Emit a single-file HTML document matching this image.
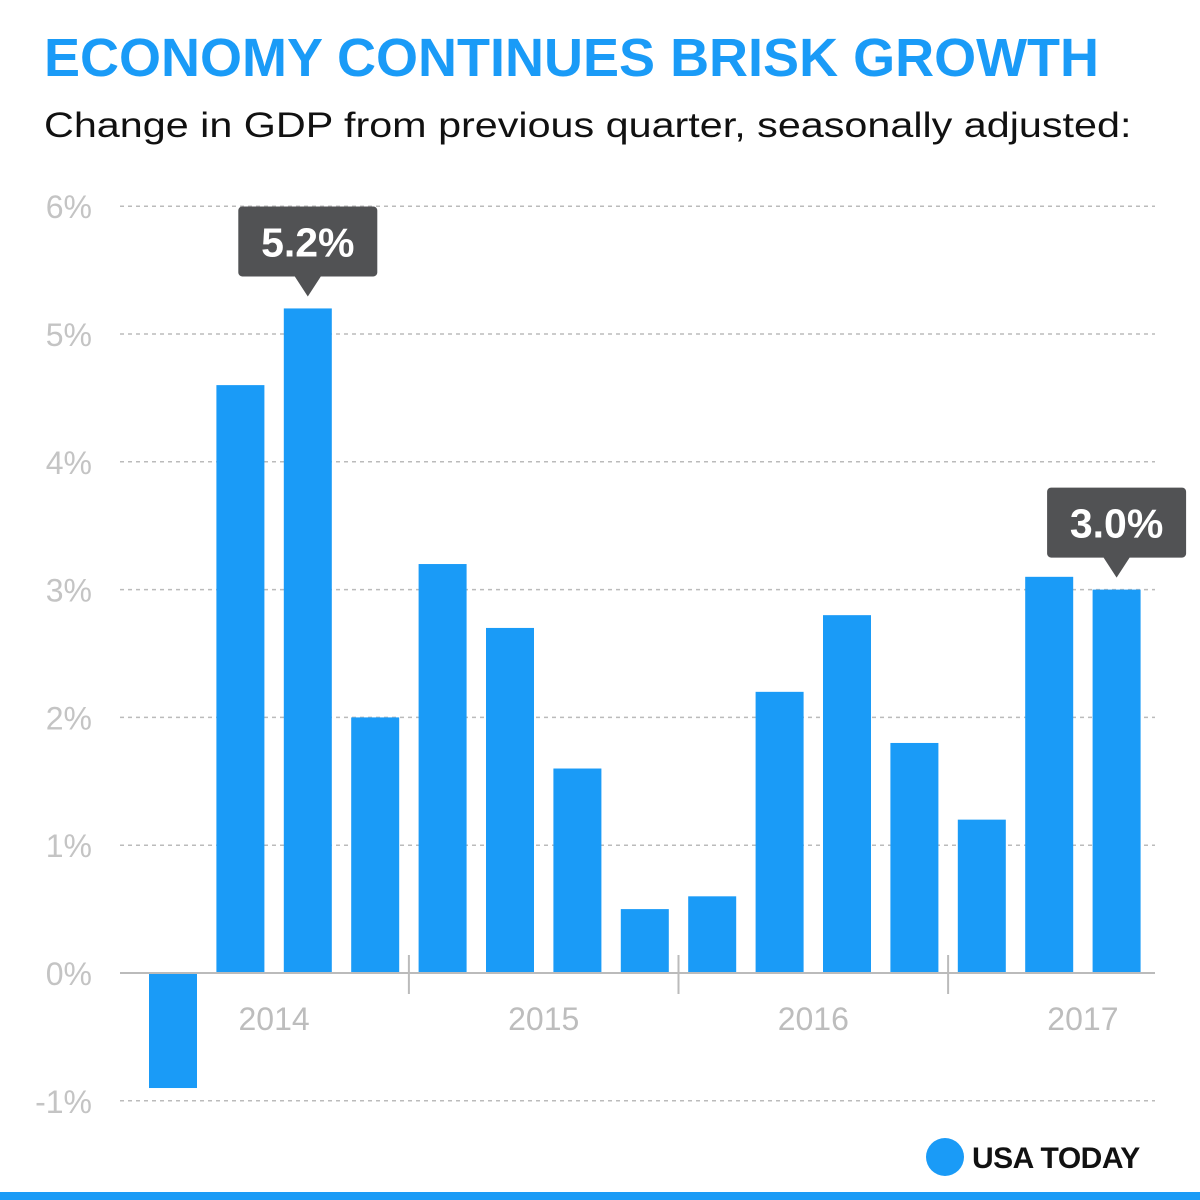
<!DOCTYPE html>
<html><head><meta charset="utf-8"><style>
html,body{margin:0;padding:0;background:#fff;}
body{width:1200px;height:1200px;position:relative;overflow:hidden;font-family:"Liberation Sans",sans-serif;}
</style></head><body>
<div style="position:absolute;left:44px;top:27px;font-size:54px;font-weight:bold;color:#1a9bf7;white-space:nowrap;transform:scaleX(1.0);transform-origin:0 0;">ECONOMY CONTINUES BRISK GROWTH</div>
<div style="position:absolute;left:44px;top:106px;font-size:35px;color:#111;white-space:nowrap;transform:scaleX(1.18);transform-origin:0 0;">Change in GDP from previous quarter, seasonally adjusted:</div>
<svg id="chart" width="1200" height="1200" style="position:absolute;left:0;top:0;"></svg>
<div style="position:absolute;left:0;top:1192px;width:1200px;height:8px;background:#1a9bf7;"></div>
<script>
const categories=["Q1 2014","Q2 2014","Q3 2014","Q4 2014","Q1 2015","Q2 2015","Q3 2015","Q4 2015","Q1 2016","Q2 2016","Q3 2016","Q4 2016","Q1 2017","Q2 2017","Q3 2017"];
const values=[-0.9,4.6,5.2,2.0,3.2,2.7,1.6,0.5,0.6,2.2,2.8,1.8,1.2,3.1,3.0];
const yTicks=[-1,0,1,2,3,4,5,6];
const yTickLabels=["-1%","0%","1%","2%","3%","4%","5%","6%"];
const years=["2014","2015","2016","2017"];
const callouts=[{i:2,label:"5.2%"},{i:14,label:"3.0%"}];

const svg=document.getElementById('chart');
const NS='http://www.w3.org/2000/svg';
const y0=973, pxPer=127.8;
const y=v=>y0-v*pxPer;
const xStart=149, step=67.4, bw=48;
const x=i=>xStart+i*step;
function mk(t,a){const e=document.createElementNS(NS,t);for(const k in a)e.setAttribute(k,a[k]);svg.appendChild(e);return e;}
yTicks.forEach((v,k)=>{
  if(v!==0){const l=mk('line',{x1:120,x2:1155,y1:y(v),y2:y(v),stroke:'#bbb','stroke-width':1.5,'stroke-dasharray':'4,4'});
  
  }
  const t=mk('text',{x:92,y:y(v)+12,'text-anchor':'end','font-size':32,fill:'#c4c4c4','font-family':'Liberation Sans, sans-serif'});
  t.textContent=yTickLabels[k];
  
  
});
values.forEach((v,i)=>{
  const r=mk('rect',{x:x(i),y:Math.min(y(v),y0),width:bw,height:Math.abs(y(v)-y0),fill:'#1a9bf7'});
  
  
});
const zl=mk('line',{x1:120,x2:1155,y1:y0,y2:y0,stroke:'#bbb','stroke-width':2});


years.forEach((yr,k)=>{
  if(k>0){const sx=(x(k*4-1)+bw+x(k*4))/2;const s=mk('line',{x1:sx,x2:sx,y1:955,y2:994,stroke:'#bbb','stroke-width':2});
  
  }
  const cx=(x(k*4)+x(k*4+3)+bw)/2;
  const t=mk('text',{x:cx,y:1030,'text-anchor':'middle','font-size':32,fill:'#bdbdbd','font-family':'Liberation Sans, sans-serif'});
  t.textContent=yr;
  
  
});
callouts.forEach(c=>{
  const cx=x(c.i)+bw/2, top=y(values[c.i]);
  const bxw=139,bh=70,tip=top-12,by=tip-20-bh;
  let bx=cx-bxw/2; if(bx+bxw>1189)bx=1189-bxw;
  const g=mk('path',{d:`M${bx+4},${by} h${bxw-8} a4,4 0 0 1 4,4 v${bh-8} a4,4 0 0 1 -4,4 H${cx+13} L${cx},${tip} L${cx-13},${by+bh} H${bx+4} a4,4 0 0 1 -4,-4 v${-(bh-8)} a4,4 0 0 1 4,-4 z`,fill:'#515254'});
  
  
  const t=mk('text',{x:bx+bxw/2,y:by+bh/2+15,'text-anchor':'middle','font-size':41,'font-weight':'bold',fill:'#fff','font-family':'Liberation Sans, sans-serif'});
  t.textContent=c.label;
  
  
});
const lc=mk('circle',{cx:945,cy:1157,r:19,fill:'#1a9bf7'});


const lt=mk('text',{x:972,y:1168,'font-size':30,'font-weight':'bold',fill:'#111','letter-spacing':'-0.5','font-family':'Liberation Sans, sans-serif'});
lt.textContent='USA TODAY';


</script>
</body></html>
